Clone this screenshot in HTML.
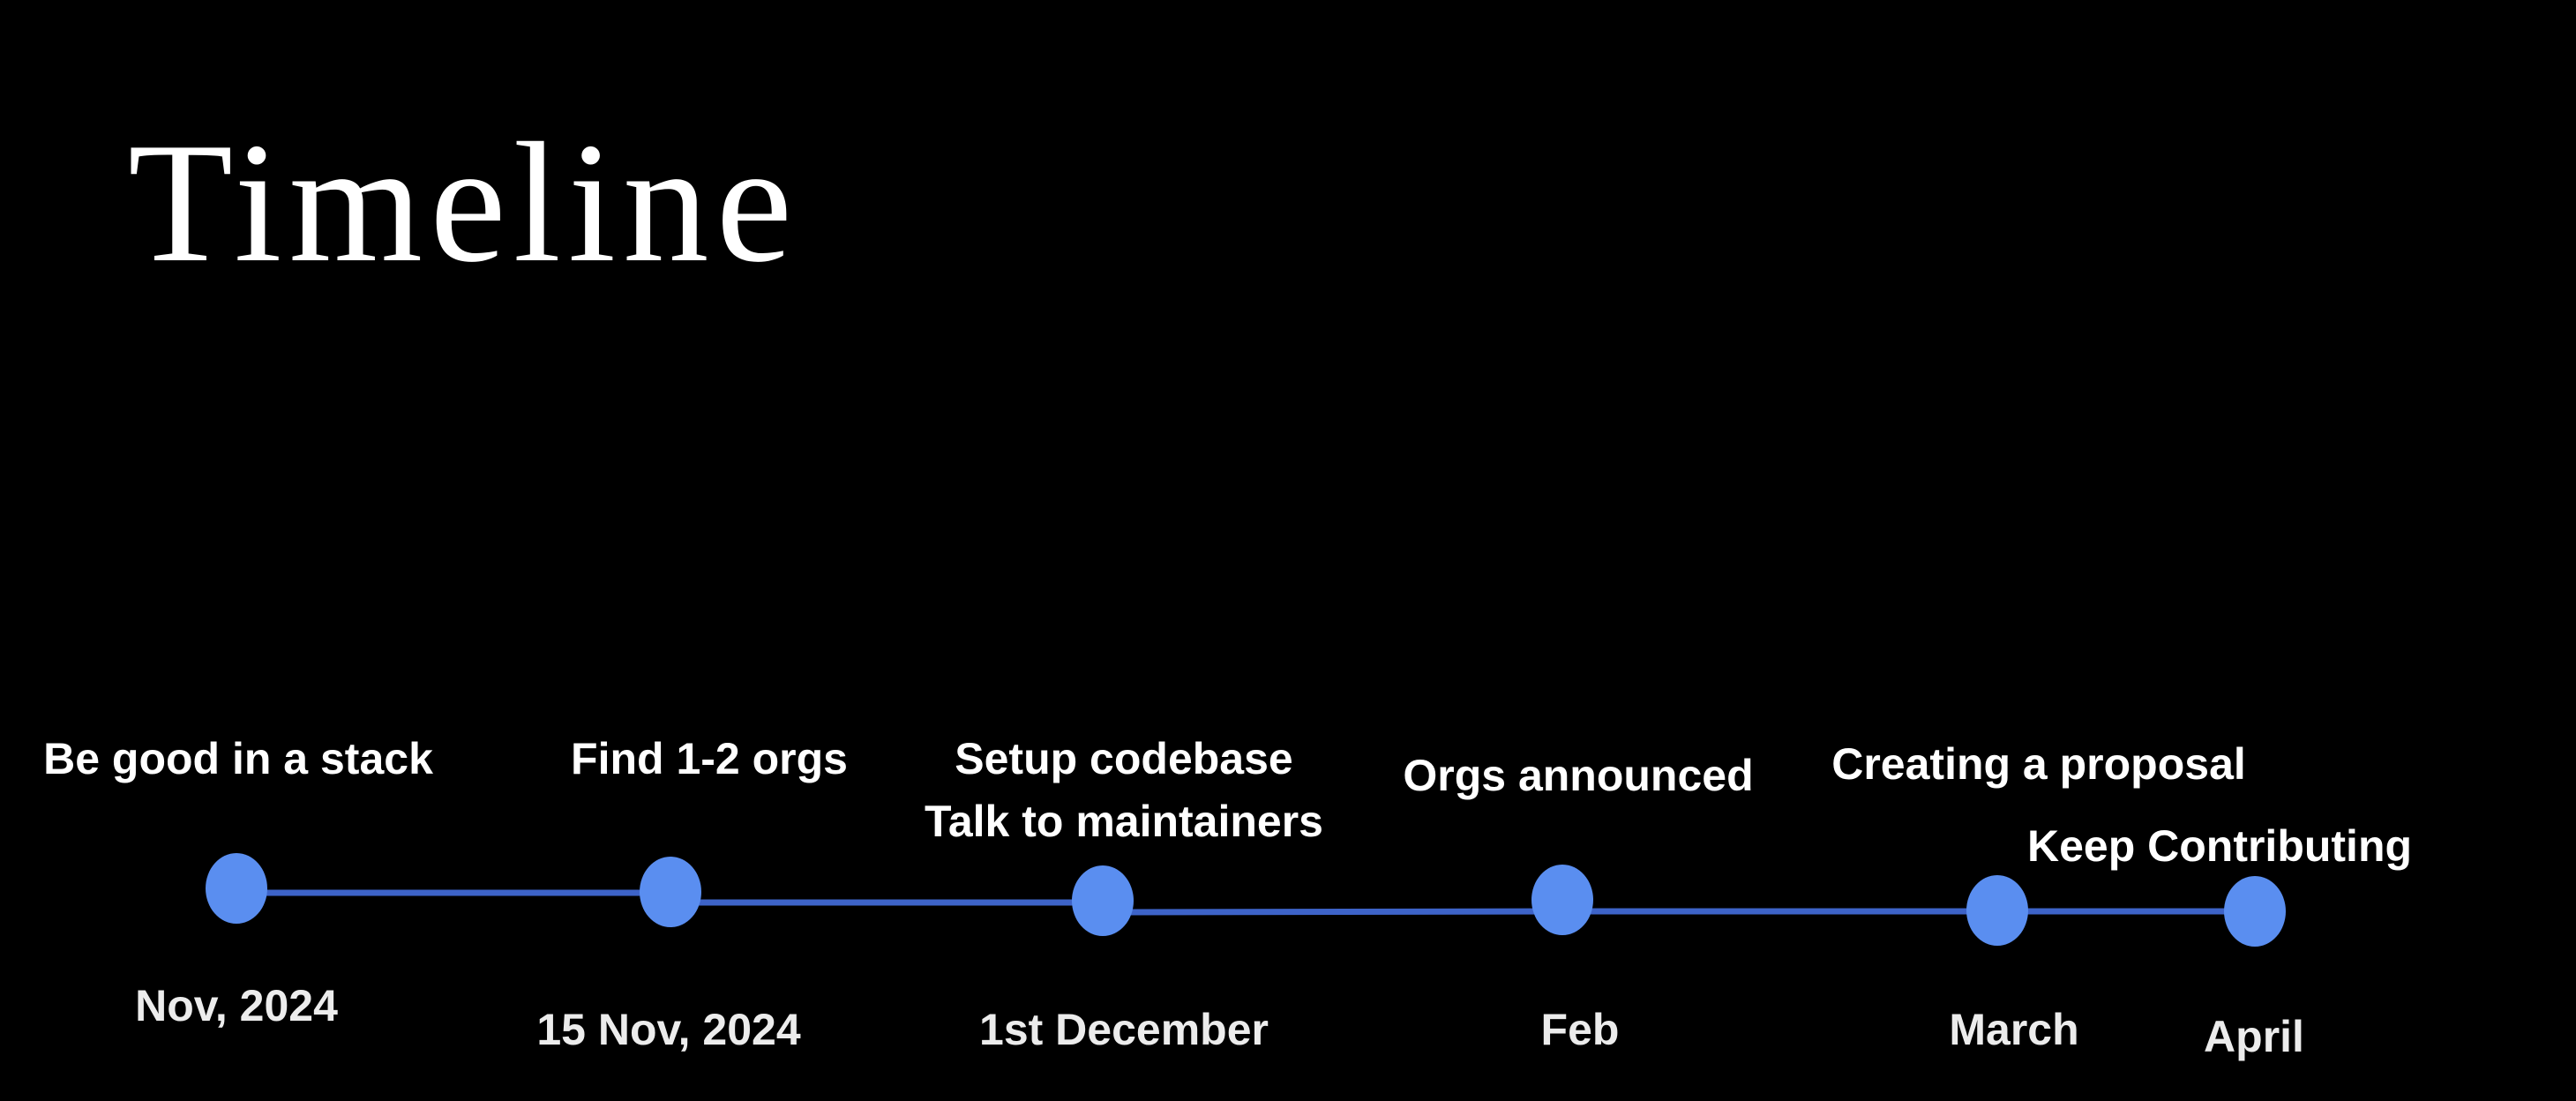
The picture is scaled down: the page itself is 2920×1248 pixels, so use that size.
<!DOCTYPE html>
<html><head><meta charset="utf-8"><style>
html,body{margin:0;padding:0;background:#000;}
#c{position:relative;width:2920px;height:1248px;background:#000;overflow:hidden;}
.t{position:absolute;left:145px;top:133px;font-family:"Liberation Serif",serif;font-size:195px;color:#fff;line-height:1;letter-spacing:8px;}
.l{position:absolute;transform:translate(-50%,-50%);font-family:"Liberation Sans",sans-serif;font-weight:bold;font-size:50px;color:#fff;white-space:nowrap;line-height:1;}
.b{color:#ececec;}
</style></head><body><div id="c">
<div class="t">Timeline</div>
<svg width="2920" height="1248" style="position:absolute;left:0;top:0">
<g stroke="#3d63c8" stroke-width="7" stroke-linecap="round">
<line x1="268" y1="1012" x2="758" y2="1012"/>
<line x1="758" y1="1023" x2="1248" y2="1023"/>
<line x1="1248" y1="1034" x2="1771" y2="1033"/>
<line x1="1771" y1="1033" x2="2553" y2="1033"/>
</g>
<g fill="#5a8ef0">
<ellipse cx="268" cy="1007" rx="35" ry="40"/>
<ellipse cx="760" cy="1011" rx="35" ry="40"/>
<ellipse cx="1250" cy="1021" rx="35" ry="40"/>
<ellipse cx="1771" cy="1020" rx="35" ry="40"/>
<ellipse cx="2264" cy="1032" rx="35" ry="40"/>
<ellipse cx="2556" cy="1033" rx="35" ry="40"/>
</g>
</svg>
<div class="l" style="left:270px;top:860px">Be good in a stack</div>
<div class="l" style="left:804px;top:860px">Find 1-2 orgs</div>
<div class="l" style="left:1274px;top:860px">Setup codebase</div>
<div class="l" style="left:1274px;top:931px">Talk to maintainers</div>
<div class="l" style="left:1789px;top:879px">Orgs announced</div>
<div class="l" style="left:2311px;top:866px">Creating a proposal</div>
<div class="l" style="left:2516px;top:959px">Keep Contributing</div>
<div class="l b" style="left:268px;top:1140px">Nov, 2024</div>
<div class="l b" style="left:758px;top:1167px">15 Nov, 2024</div>
<div class="l b" style="left:1274px;top:1167px">1st December</div>
<div class="l b" style="left:1791px;top:1167px">Feb</div>
<div class="l b" style="left:2283px;top:1167px">March</div>
<div class="l b" style="left:2555px;top:1175px">April</div>
</div></body></html>
